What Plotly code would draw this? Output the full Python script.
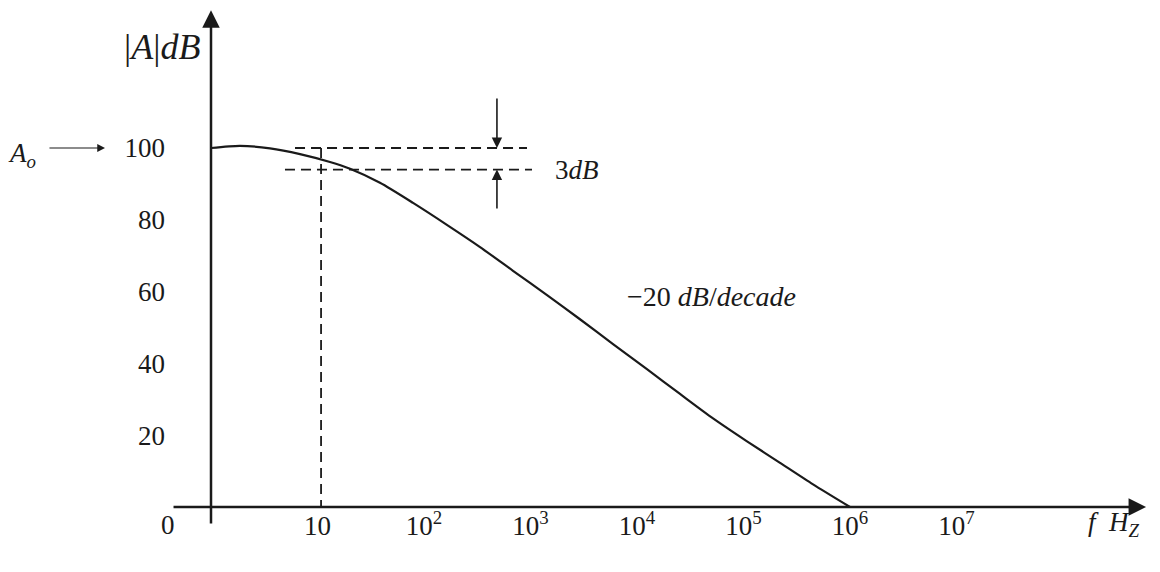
import numpy as np
import plotly.graph_objects as go

# ---- data ----
freq_hz = [1, 1.87, 3.58, 6.85, 13.1, 20.2, 38.6, 78.9, 164, 336, 685, 1430,
           2915, 5955, 12400, 25350, 51760, 107900, 220300, 449800, 1000000]
gain_db = [100, 100.6, 99.9, 98.3, 96.1, 94.2, 90.3, 84.7, 78.6, 72.4, 65.8,
           59.0, 52.3, 45.4, 38.4, 31.5, 24.7, 18.3, 12.3, 6.3, 0]

x_tick_vals = [10, 1e2, 1e3, 1e4, 1e5, 1e6, 1e7]
x_tick_text = ["10", "10<sup>2</sup>", "10<sup>3</sup>", "10<sup>4</sup>",
               "10<sup>5</sup>", "10<sup>6</sup>", "10<sup>7</sup>"]
y_tick_vals = [20, 40, 60, 80, 100]
y_tick_text = ["20", "40", "60", "80", "100"]

a0_db = 100          # upper dashed level
cut_db = 94          # lower dashed level (drawn as on the picture)
f_cut = 10.8         # vertical dashed line
upper_dash_f = [6.15, 927]
lower_dash_f = [4.95, 1033]
arrow_f = 484

FONT = "Liberation Serif"
INK = "#1a1a1a"

fig = go.Figure()

fig.add_trace(go.Scatter(x=freq_hz, y=gain_db, mode="lines",
                         line=dict(color=INK, width=2.2, shape="spline", smoothing=0.7),
                         hoverinfo="skip", showlegend=False))

dash = "10px,6px"
fig.add_trace(go.Scatter(x=upper_dash_f, y=[a0_db, a0_db], mode="lines",
                         line=dict(color=INK, width=1.8, dash=dash), showlegend=False))
fig.add_trace(go.Scatter(x=lower_dash_f, y=[cut_db, cut_db], mode="lines",
                         line=dict(color=INK, width=1.8, dash=dash), showlegend=False))
fig.add_trace(go.Scatter(x=[f_cut, f_cut], y=[a0_db, 0], mode="lines",
                         line=dict(color=INK, width=1.8, dash=dash), showlegend=False))

L = np.log10

def arrow(x0, y0, x1, y1, width=2.5, head=2, size=1.2):
    fig.add_annotation(x=L(x1), y=y1, ax=L(x0), ay=y0, xref="x", yref="y",
                       axref="x", ayref="y", text="", showarrow=True,
                       arrowhead=head, arrowwidth=width, arrowsize=size,
                       arrowcolor=INK, standoff=0, startstandoff=0)

# axes drawn as arrows
arrow(10 ** -0.366, 0, 10 ** 8.78, 0, width=2.5, size=1.4)
arrow(1, -5, 1, 138.4, width=2.5, size=1.4)
# 3 dB arrows
arrow(arrow_f, 114.2, arrow_f, a0_db, width=1.6, size=1.3)
arrow(arrow_f, 82.7, arrow_f, cut_db, width=1.6, size=1.3)
# A_o arrow
arrow(10 ** -1.531, a0_db, 10 ** -0.995, a0_db, width=1.2, size=1.3)

def text(s, f, y, size=27):
    fig.add_annotation(x=L(f), y=y, xref="x", yref="y", text=s, showarrow=False,
                       font=dict(family=FONT, size=size, color=INK))

text("|<i>A</i>|<i>dB</i>", 10 ** -0.46, 128.1, size=36)
text("<i>A<sub>o</sub></i>", 10 ** -1.775, 98, size=27)
text("3<i>dB</i>", 10 ** 3.437, 93.9, size=27)
text("−20 <i>dB</i>/<i>decade</i>", 10 ** 4.70, 58.5, size=28)
text("<i>f  H<sub>Z</sub></i>", 10 ** 8.48, -4.7, size=27)
text("0", 10 ** -0.404, -5.0, size=27)

# page offset of the plot div (browser body margin)
OFF = 8
W, H = 1160, 572
x_axis_px, y_axis_px = 507, 211      # where 0 dB and f = 1 Hz sit on the page
px_per_decade, px_per_db = 106.5, 3.59

x_range = [(OFF - y_axis_px) / px_per_decade, (W + OFF - y_axis_px) / px_per_decade]
y_range = [(x_axis_px - (H + OFF)) / px_per_db, (x_axis_px - OFF) / px_per_db]

fig.update_layout(
    width=W, height=H, margin=dict(l=0, r=0, t=0, b=0),
    paper_bgcolor="white", plot_bgcolor="white", showlegend=False,
    xaxis=dict(type="log", range=x_range, showgrid=False, zeroline=False,
               showline=False, ticks="", tickvals=x_tick_vals, ticktext=x_tick_text,
               tickfont=dict(family=FONT, size=27, color=INK),
               anchor="free", position=(H - (x_axis_px - OFF)) / H,
               ticklabelstandoff=0, automargin=False),
    yaxis=dict(range=y_range, showgrid=False, zeroline=False, showline=False,
               ticks="", tickvals=y_tick_vals, ticktext=y_tick_text,
               tickfont=dict(family=FONT, size=27, color=INK),
               anchor="free", position=(y_axis_px - OFF) / W,
               ticklabelstandoff=46, automargin=False),
)

fig.write_html("out.html")
